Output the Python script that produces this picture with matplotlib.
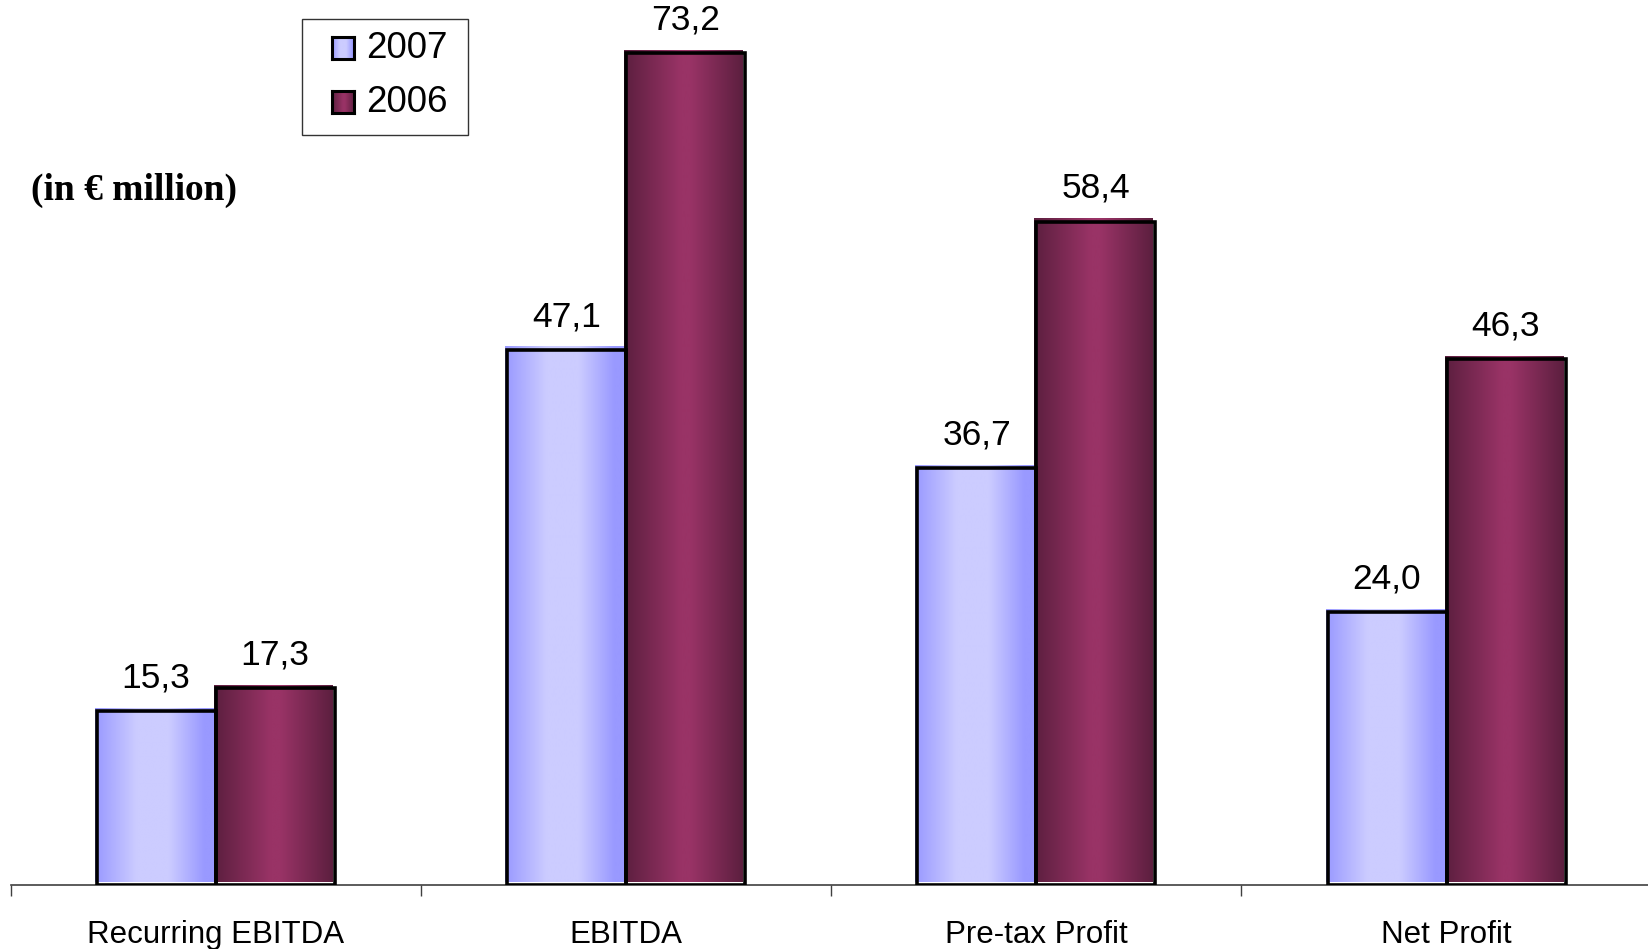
import numpy as np
import matplotlib
matplotlib.use("Agg")
import matplotlib.pyplot as plt
from matplotlib.colors import LinearSegmentedColormap
from matplotlib.patches import Rectangle
from matplotlib.transforms import ScaledTranslation

categories = ["Recurring EBITDA", "EBITDA", "Pre-tax Profit", "Net Profit"]
series_names = ["2007", "2006"]
values_2007 = [15.3, 47.1, 36.7, 24.0]
values_2006 = [17.3, 73.2, 58.4, 46.3]

W, H, DPI = 1648, 949, 100
plt.rcParams["font.family"] = ["Liberation Sans", "DejaVu Sans"]

fig = plt.figure(figsize=(W / DPI, H / DPI), dpi=DPI)
ax = fig.add_axes([10.5 / W, (H - 885) / H, (1651.7 - 10.5) / W, 885 / H])
ax.set_xlim(-0.5, len(categories) - 0.5)
ax.set_ylim(0, 885 / 11.36)

# horizontal "cylinder" shading for each series
blue_cmap = LinearSegmentedColormap.from_list(
    "blue", [(0, "#9999FF"), (0.35, "#CCCCFF"), (0.62, "#CCCCFF"), (0.92, "#9999FF"), (1, "#9999FF")])
purple_cmap = LinearSegmentedColormap.from_list(
    "purple", [(0, "#5C1F3F"), (0.48, "#993366"), (0.56, "#993366"), (1, "#5C1F3F")])
grad = np.linspace(0, 1, 256).reshape(1, -1)

width = 0.29
x = np.arange(len(categories))
fill_shift = ScaledTranslation(-2 / DPI, 3 / DPI, fig.dpi_scale_trans)

for vals, offset, cmap in [(values_2007, -width / 2, blue_cmap),
                           (values_2006, width / 2, purple_cmap)]:
    bars = ax.bar(x + offset, vals, width=width, facecolor="none",
                  edgecolor="black", linewidth=2.6, zorder=3)
    for b, v in zip(bars, vals):
        x0 = b.get_x()
        ax.imshow(grad, cmap=cmap, aspect="auto",
                  extent=[x0, x0 + b.get_width(), 0, v],
                  transform=ax.transData + fill_shift, zorder=2,
                  interpolation="bilinear")
        ax.annotate(f"{v:.1f}".replace(".", ","), xy=(b.get_x() + b.get_width() / 2, v),
                    xytext=(0, 17), textcoords="offset points",
                    ha="center", va="baseline", fontsize=25.5, color="black")

# axis styling
for s in ["left", "right", "top"]:
    ax.spines[s].set_visible(False)
ax.spines["bottom"].set_color("#404040")
ax.spines["bottom"].set_linewidth(1.2)
ax.set_yticks([])
ax.set_xticks([])
ax.set_xticks(np.arange(-0.5, len(categories) + 0.5, 1), minor=True)
ax.tick_params(axis="x", which="minor", length=8, width=1, color="#404040", direction="out")
ax.set_xticklabels([], minor=True)

for i, c in enumerate(categories):
    ax.annotate(c, xy=(i, 0), xycoords=("data", "axes fraction"),
                xytext=(0, -41.5), textcoords="offset points",
                ha="center", va="baseline", fontsize=22.5, color="black",
                annotation_clip=False)

fig.text(31 / W, 1 - 190 / H, "(in \u20ac million)", fontsize=27, fontweight="bold",
         family=["Liberation Serif", "DejaVu Serif"], ha="left", va="center")

# legend box
fig.add_artist(Rectangle((301.7 / W, 1 - 135 / H), (468.3 - 301.7) / W, (135 - 19.3) / H,
                         transform=fig.transFigure, facecolor="white",
                         edgecolor="#333333", linewidth=1.0, zorder=1))
for name, cmap, ytop in [(series_names[0], blue_cmap, 36.5), (series_names[1], purple_cmap, 90.7)]:
    mk = fig.add_axes([331.7 / W, 1 - (ytop + 22.5) / H, 22.3 / W, 22.5 / H])
    mk.set_zorder(5)
    mk.imshow(grad, cmap=cmap, aspect="auto", extent=[0, 1, 0, 1], interpolation="bilinear")
    mk.set_xticks([])
    mk.set_yticks([])
    for sp in mk.spines.values():
        sp.set_linewidth(2.2)
        sp.set_color("black")
    fig.text(366 / W, 1 - (ytop + 11.5) / H, name, fontsize=26.5, ha="left", va="center",
             zorder=6)

fig.savefig("out.png", dpi=DPI)
